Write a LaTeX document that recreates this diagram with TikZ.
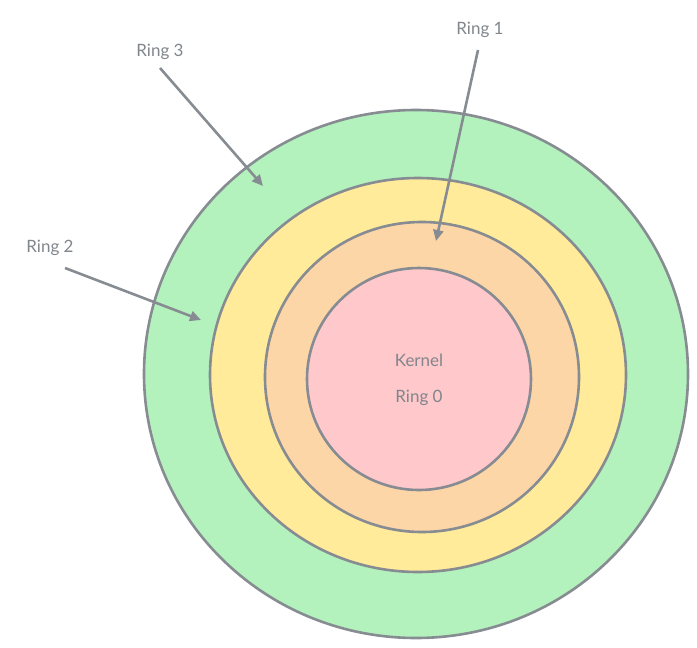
\documentclass[tikz,border=0pt]{standalone}
\usepackage{fontspec}
\setmainfont{Lato}
\usetikzlibrary{arrows.meta}
\definecolor{ln}{HTML}{878C92}
\definecolor{tx}{HTML}{80868C}
\definecolor{gr}{HTML}{B3F2BC}
\definecolor{ye}{HTML}{FFEB9A}
\definecolor{orr}{HTML}{FDD6A8}
\definecolor{pk}{HTML}{FFC8CB}
\tikzset{ring/.style={draw=ln,line width=2.6pt},
lbl/.style={text=tx,font=\fontsize{17}{21}\selectfont},
arr/.style={draw=ln,line width=2.6pt,-{Triangle[length=11pt,width=10pt]}}}
\begin{document}
\begin{tikzpicture}[x=1pt,y=-1pt]
\useasboundingbox (0,0) rectangle (697,648);
\draw[ring,fill=gr] (416,374) ellipse [x radius=272,y radius=264];
\draw[ring,fill=ye] (418,375) ellipse [x radius=208,y radius=197];
\draw[ring,fill=orr] (422,377) ellipse [x radius=157,y radius=155];
\draw[ring,fill=pk] (419,379) ellipse [x radius=112,y radius=111];
\node[lbl] (k) at (419,360) {Kernel};
\node[lbl] (r0) at (419,398) {Ring 0};
\node[lbl] (r3) at (160,52) {Ring 3};
\node[lbl] (r1) at (480,30) {Ring 1};
\node[lbl] (r2) at (50,248) {Ring 2};
\coordinate (t3) at (263,186);
\coordinate (t1) at (436,241);
\coordinate (t2) at (201,320);
\draw[arr] (160,68) -- (t3);
\draw[arr] (478,50) -- (t1);
\draw[arr] (65,268) -- (t2);
\end{tikzpicture}
\end{document}
